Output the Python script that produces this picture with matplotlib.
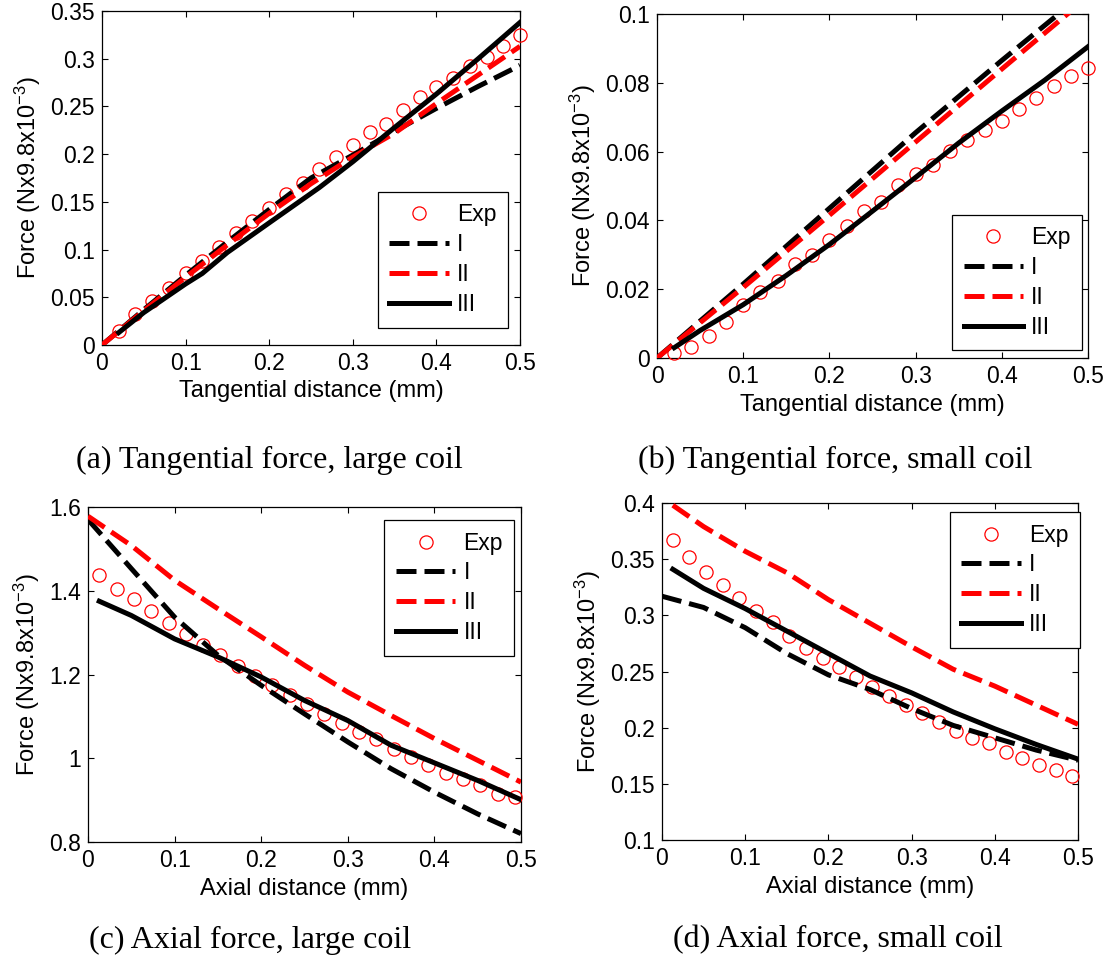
import numpy as np
import matplotlib
matplotlib.use("Agg")
import matplotlib.pyplot as plt

plt.rcParams["font.family"] = ["Liberation Sans", "DejaVu Sans"]
plt.rcParams["mathtext.default"] = "regular"

# ---------------- data ----------------
# (a) tangential force, large coil
a_exp_x = [0.02, 0.04, 0.06, 0.08, 0.10, 0.12, 0.14, 0.16, 0.18, 0.20, 0.22, 0.24, 0.26,
           0.28, 0.30, 0.32, 0.34, 0.36, 0.38, 0.40, 0.42, 0.44, 0.46, 0.48, 0.50]
a_exp_y = [0.0147, 0.032, 0.046, 0.060, 0.075, 0.088, 0.103, 0.117, 0.130, 0.144, 0.158,
           0.170, 0.184, 0.197, 0.210, 0.223, 0.232, 0.246, 0.260, 0.270, 0.280, 0.292,
           0.302, 0.313, 0.325]
a_x = [0.0, 0.05, 0.10, 0.15, 0.20, 0.25, 0.30, 0.35, 0.40, 0.45, 0.50]
a_I = [0.0, 0.037, 0.073, 0.108, 0.142, 0.175, 0.199, 0.224, 0.248, 0.271, 0.293]
a_II = [0.0, 0.036, 0.071, 0.105, 0.138, 0.169, 0.197, 0.222, 0.253, 0.283, 0.313]
a_III_x = [0.02, 0.05, 0.10, 0.12, 0.15, 0.20, 0.26, 0.30, 0.35, 0.40, 0.45, 0.50]
a_III = [0.013, 0.034, 0.064, 0.075, 0.097, 0.128, 0.165, 0.192, 0.228, 0.263, 0.300, 0.338]

# (b) tangential force, small coil
b_exp_x = a_exp_x
b_exp_y = [0.0015, 0.0032, 0.0063, 0.0104, 0.0153, 0.0192, 0.0224, 0.0274, 0.0300, 0.0342,
           0.0383, 0.0426, 0.0454, 0.0504, 0.0536, 0.0562, 0.0602, 0.0633, 0.0662, 0.0690,
           0.0723, 0.0755, 0.0792, 0.0820, 0.0842]
b_x = [0.0, 0.10, 0.20, 0.30, 0.40, 0.50]
b_I = [0.0, 0.0215, 0.0435, 0.0655, 0.0865, 0.1070]
b_II = [0.0, 0.0205, 0.0415, 0.0628, 0.0840, 0.1050]
b_III_x = [0.02, 0.05, 0.10, 0.15, 0.20, 0.25, 0.30, 0.35, 0.40, 0.45, 0.50]
b_III = [0.0030, 0.0080, 0.0155, 0.0240, 0.0330, 0.0427, 0.0525, 0.0625, 0.0718, 0.0808, 0.0905]

# (c) axial force, large coil
c_exp_x = [0.013, 0.033, 0.053, 0.073, 0.093, 0.113, 0.133, 0.153, 0.173, 0.193, 0.213,
           0.233, 0.253, 0.273, 0.293, 0.313, 0.333, 0.353, 0.373, 0.393, 0.413, 0.433,
           0.453, 0.473, 0.493]
c_exp_y = [1.437, 1.405, 1.380, 1.351, 1.323, 1.297, 1.271, 1.246, 1.220, 1.196, 1.174,
           1.150, 1.129, 1.106, 1.085, 1.063, 1.045, 1.023, 1.003, 0.983, 0.965, 0.951,
           0.935, 0.915, 0.907]
c_x = [0.0, 0.05, 0.10, 0.15, 0.20, 0.25, 0.30, 0.35, 0.40, 0.45, 0.50]
c_I = [1.570, 1.453, 1.337, 1.246, 1.174, 1.106, 1.039, 0.975, 0.919, 0.867, 0.820]
c_II = [1.578, 1.508, 1.425, 1.357, 1.290, 1.222, 1.158, 1.102, 1.047, 0.995, 0.943]
c_III_x = [0.013, 0.05, 0.10, 0.15, 0.20, 0.25, 0.30, 0.35, 0.40, 0.45, 0.50]
c_III = [1.375, 1.341, 1.285, 1.242, 1.194, 1.138, 1.090, 1.031, 0.989, 0.947, 0.901]

# (d) axial force, small coil
d_exp_x = c_exp_x
d_exp_y = [0.367, 0.352, 0.339, 0.327, 0.315, 0.304, 0.294, 0.282, 0.271, 0.262, 0.254,
           0.245, 0.236, 0.228, 0.220, 0.213, 0.205, 0.197, 0.191, 0.186, 0.178, 0.173,
           0.167, 0.162, 0.157]
d_x = [0.0, 0.05, 0.10, 0.15, 0.20, 0.25, 0.30, 0.35, 0.40, 0.45, 0.50]
d_I = [0.317, 0.307, 0.289, 0.266, 0.247, 0.234, 0.217, 0.202, 0.191, 0.180, 0.171]
d_II_x = [0.013, 0.05, 0.10, 0.15, 0.20, 0.25, 0.30, 0.35, 0.40, 0.45, 0.50]
d_II = [0.398, 0.379, 0.357, 0.338, 0.314, 0.293, 0.272, 0.252, 0.237, 0.220, 0.203]
d_III_x = [0.013, 0.05, 0.10, 0.15, 0.20, 0.25, 0.30, 0.35, 0.40, 0.45, 0.50]
d_III = [0.341, 0.324, 0.306, 0.286, 0.266, 0.246, 0.231, 0.214, 0.199, 0.185, 0.172]

panels = [
    dict(key="a", xlabel="Tangential distance (mm)", ylim=(0, 0.35),
         yticks=[0, 0.05, 0.1, 0.15, 0.2, 0.25, 0.3, 0.35],
         ylabels=["0", "0.05", "0.1", "0.15", "0.2", "0.25", "0.3", "0.35"],
         exp=(a_exp_x, a_exp_y), I=(a_x, a_I), II=(a_x, a_II), III=(a_III_x, a_III),
         pos=(102, 11, 520, 345), leg=(0.6595, 0.458),
         caption="(a) Tangential force, large coil", cap=(269, 460)),
    dict(key="b", xlabel="Tangential distance (mm)", ylim=(0, 0.1),
         yticks=[0, 0.02, 0.04, 0.06, 0.08, 0.1],
         ylabels=["0", "0.02", "0.04", "0.06", "0.08", "0.1"],
         exp=(b_exp_x, b_exp_y), I=(b_x, b_I), II=(b_x, b_II), III=(b_III_x, b_III),
         pos=(657, 14, 1088, 358), leg=(0.685, 0.416),
         caption="(b) Tangential force, small coil", cap=(835, 460)),
    dict(key="c", xlabel="Axial distance (mm)", ylim=(0.8, 1.6),
         yticks=[0.8, 1.0, 1.2, 1.4, 1.6],
         ylabels=["0.8", "1", "1.2", "1.4", "1.6"],
         exp=(c_exp_x, c_exp_y), I=(c_x, c_I), II=(c_x, c_II), III=(c_III_x, c_III),
         pos=(88, 507, 521, 842), leg=(0.6846, 0.961),
         caption="(c) Axial force, large coil", cap=(250, 940)),
    dict(key="d", xlabel="Axial distance (mm)", ylim=(0.1, 0.4),
         yticks=[0.1, 0.15, 0.2, 0.25, 0.3, 0.35, 0.4],
         ylabels=["0.1", "0.15", "0.2", "0.25", "0.3", "0.35", "0.4"],
         exp=(d_exp_x, d_exp_y), I=(d_x, d_I), II=(d_II_x, d_II), III=(d_III_x, d_III),
         pos=(662, 503, 1078, 840), leg=(0.692, 0.973),
         caption="(d) Axial force, small coil", cap=(838, 940)),
]

W, H = 1110, 963
fig = plt.figure(figsize=(W / 100, H / 100), dpi=100)

xticks = [0, 0.1, 0.2, 0.3, 0.4, 0.5]
xlabels = ["0", "0.1", "0.2", "0.3", "0.4", "0.5"]
lw = 3.6
dash = (4.0, 1.6)
fs = 16.5

for p in panels:
    x0, y0, x1, y1 = p["pos"]
    ax = fig.add_axes([x0 / W, 1 - y1 / H, (x1 - x0) / W, (y1 - y0) / H])
    ex, ey = p["exp"]
    ax.plot(ex, ey, "o", ms=9.5, mfc="none", mec="#ff0000", mew=0.9, label="Exp",
            clip_on=False, zorder=3)
    ax.plot(*p["I"], color="black", lw=lw, ls=(0, dash), label="I", zorder=4)
    ax.plot(*p["II"], color="#ff0000", lw=lw, ls=(0, dash), label="II", zorder=4)
    ax.plot(*p["III"], color="black", lw=lw, ls="-", label="III", zorder=5)

    ax.set_xlim(0, 0.5)
    ax.set_ylim(*p["ylim"])
    ax.set_xticks(xticks)
    ax.set_xticklabels(xlabels)
    ax.set_yticks(p["yticks"])
    ax.set_yticklabels(p["ylabels"])
    ax.tick_params(direction="in", length=4, width=0.8, labelsize=fs,
                   top=True, right=True, pad=5)
    for s in ax.spines.values():
        s.set_linewidth(0.9)
    ax.set_xlabel(p["xlabel"], fontsize=17, labelpad=4)
    ax.set_ylabel("Force (Nx9.8x10$^{-3}$)", fontsize=17, labelpad=5)

    leg = ax.legend(loc="upper left", bbox_to_anchor=p["leg"], fontsize=fs,
                    handlelength=2.6, handletextpad=0.35, labelspacing=0.3,
                    borderpad=0.5, borderaxespad=0, fancybox=False, framealpha=1,
                    edgecolor="black")
    leg.get_frame().set_linewidth(0.9)

    fig.text(p["cap"][0] / W, 1 - p["cap"][1] / H, p["caption"],
             ha="center", va="center", fontsize=23,
             family=["Liberation Serif", "DejaVu Serif"])

fig.savefig("out.png", dpi=100)
